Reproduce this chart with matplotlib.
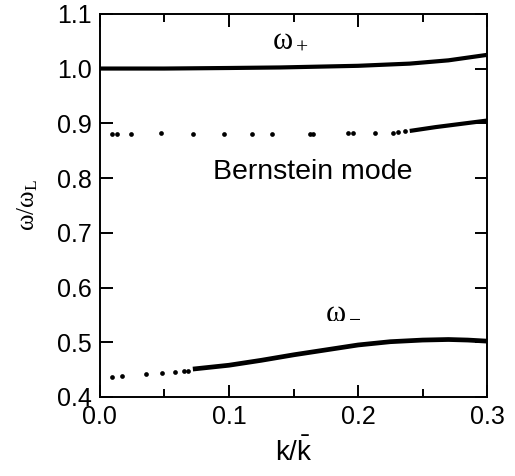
import matplotlib
matplotlib.use('Agg')
from matplotlib import pyplot as plt
from matplotlib.ticker import MultipleLocator

plt.rcParams['font.family'] = ['Liberation Sans', 'DejaVu Sans']
plt.rcParams['mathtext.fontset'] = 'custom'
plt.rcParams['mathtext.rm'] = 'Liberation Serif'
plt.rcParams['mathtext.it'] = 'Liberation Serif'
plt.rcParams['mathtext.sf'] = 'Liberation Sans'

# omega_plus branch (continuous)
kp = [0.0, 0.05, 0.10, 0.14, 0.20, 0.24, 0.27, 0.30]
wp = [1.000, 1.000, 1.001, 1.002, 1.005, 1.009, 1.015, 1.025]

# Bernstein mode: sparse points then continuous
kb_dots = [0.009, 0.013, 0.024, 0.047, 0.072, 0.096, 0.118, 0.133, 0.163, 0.165,
           0.192, 0.196, 0.213, 0.227, 0.231, 0.236]
wb_dots = [0.880, 0.880, 0.881, 0.882, 0.881, 0.881, 0.881, 0.881, 0.881, 0.881,
           0.882, 0.882, 0.882, 0.883, 0.884, 0.885]
kb_line = [0.240, 0.26, 0.28, 0.30]
wb_line = [0.886, 0.893, 0.899, 0.905]

# omega_minus branch
km_dots = [0.009, 0.017, 0.036, 0.048, 0.058, 0.065, 0.068]
wm_dots = [0.437, 0.438, 0.442, 0.444, 0.446, 0.447, 0.448]
km_line = [0.072, 0.10, 0.125, 0.15, 0.175, 0.20, 0.225, 0.25, 0.27, 0.285, 0.30]
wm_line = [0.451, 0.458, 0.467, 0.477, 0.486, 0.495, 0.501, 0.504, 0.505, 0.504, 0.502]

fig = plt.figure(figsize=(5.15, 4.76), dpi=100)
ax = fig.add_axes([0.194, 0.166, 0.752, 0.805])

ax.plot(kp, wp, c='black', lw=3.0, solid_capstyle='butt')
ax.plot(kb_line, wb_line, c='black', lw=3.0, solid_capstyle='butt')
ax.plot(km_line, wm_line, c='black', lw=3.4, solid_capstyle='butt')
ax.plot(kb_dots, wb_dots, 'o', c='black', ms=3.4, mew=0)
ax.plot(km_dots, wm_dots, 'o', c='black', ms=3.4, mew=0)

ax.set_xlim(0, 0.3)
ax.set_ylim(0.4, 1.1)
ax.xaxis.set_major_locator(MultipleLocator(0.1))
ax.xaxis.set_minor_locator(MultipleLocator(0.05))
ax.yaxis.set_major_locator(MultipleLocator(0.1))
ax.tick_params(axis='both', which='both', direction='in', top=True, right=True)
ax.tick_params(axis='both', which='major', length=9, width=1.4, labelsize=18, pad=6)
ax.tick_params(axis='both', which='minor', length=6, width=1.4)
ax.xaxis.set_major_formatter(plt.FormatStrFormatter('%.1f'))
ax.yaxis.set_major_formatter(plt.FormatStrFormatter('%.1f'))
for s in ax.spines.values():
    s.set_linewidth(1.4)

ax.text(0.133, 1.040, r'$\mathrm{\omega_+}$', fontsize=22, ha='left', va='baseline')
ax.text(0.174, 0.544, r'$\mathrm{\omega_-}$', fontsize=22, ha='left', va='baseline')
ax.text(0.165, 0.811, 'Bernstein mode', fontsize=20.5, ha='center', va='center')

ax.set_ylabel(r'$\mathrm{\omega/\omega_L}$', fontsize=18, labelpad=12)
ax.set_xlabel(r'$\mathsf{k/\bar{k}}$', fontsize=20, labelpad=6)

fig.savefig('out.png', dpi=100)
